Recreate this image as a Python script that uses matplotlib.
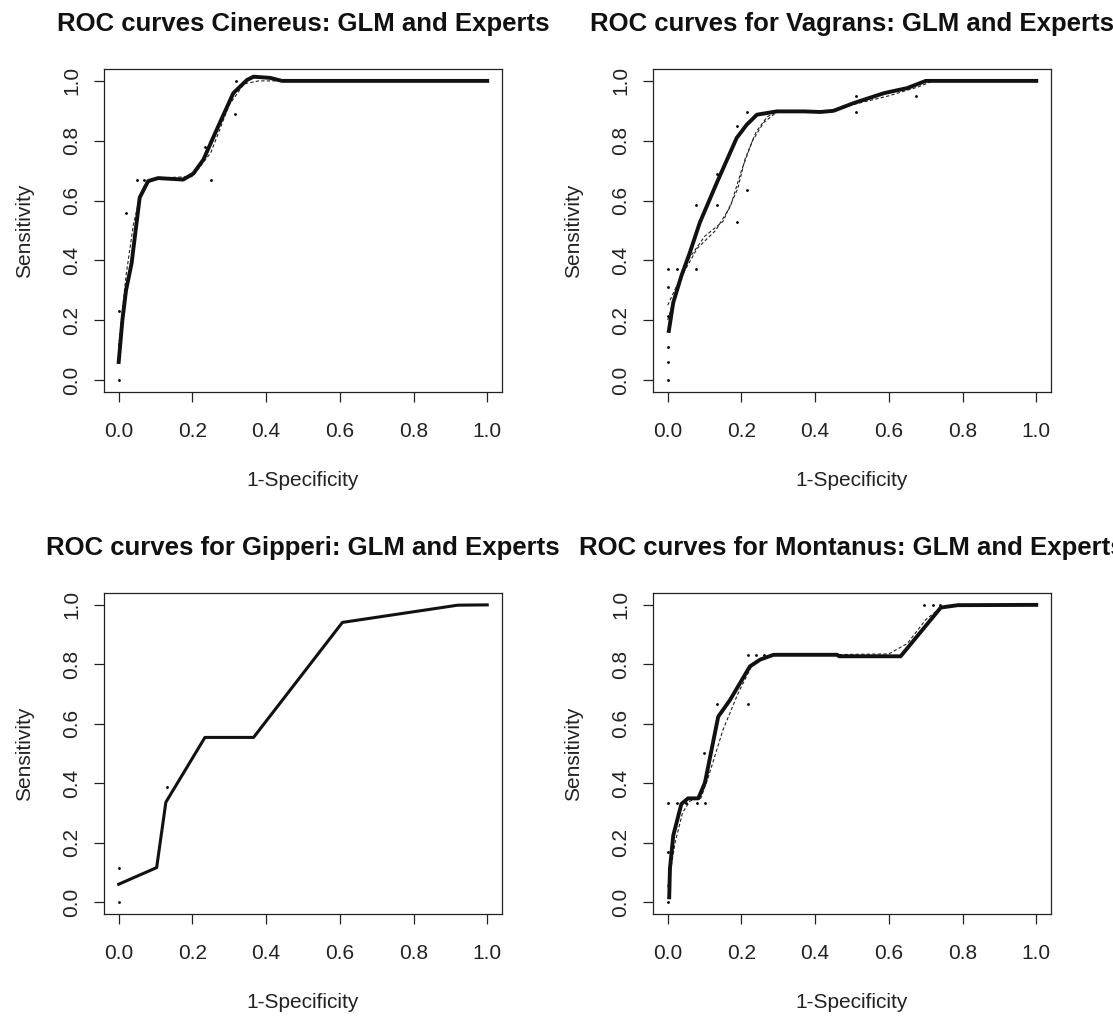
import matplotlib.pyplot as plt

plt.rcParams['font.family'] = ['Liberation Sans', 'DejaVu Sans']

titles = ['ROC curves Cinereus: GLM and Experts',
          'ROC curves for Vagrans: GLM and Experts',
          'ROC curves for Gipperi: GLM and Experts',
          'ROC curves for Montanus: GLM and Experts']

# GLM curves (1-specificity, sensitivity)
cin_x = [0.0, 0.01, 0.02, 0.035, 0.057, 0.08, 0.107, 0.175, 0.2025, 0.23, 0.266, 0.311, 0.348, 0.366, 0.411, 0.443, 1.0]
cin_y = [0.06, 0.2, 0.3, 0.39, 0.61, 0.665, 0.675, 0.67, 0.69, 0.737, 0.837, 0.959, 1.003, 1.014, 1.01, 1.0, 1.0]
vag_x = [0.003, 0.015, 0.037, 0.06, 0.087, 0.133, 0.187, 0.214, 0.242, 0.296, 0.369, 0.414, 0.45, 0.505, 0.587, 0.65, 0.70, 1.0]
vag_y = [0.164, 0.259, 0.348, 0.426, 0.526, 0.659, 0.809, 0.853, 0.887, 0.898, 0.898, 0.896, 0.9, 0.926, 0.959, 0.976, 1.0, 1.0]
gip_x = [0.0, 0.103, 0.128, 0.234, 0.366, 0.607, 0.92, 1.0]
gip_y = [0.06, 0.116, 0.336, 0.554, 0.554, 0.941, 0.999, 1.0]
mon_x = [0.004, 0.006, 0.015, 0.037, 0.055, 0.083, 0.101, 0.137, 0.169, 0.223, 0.251, 0.287, 0.46, 0.465, 0.632, 0.741, 0.787, 1.0]
mon_y = [0.016, 0.113, 0.224, 0.33, 0.349, 0.349, 0.402, 0.624, 0.68, 0.793, 0.816, 0.832, 0.832, 0.827, 0.827, 0.991, 0.999, 1.0]

# expert curves
cin_ex_x = [0.0, 0.02, 0.04, 0.055, 0.07, 0.1, 0.2, 0.25, 0.3, 0.34, 0.38, 1.0]
cin_ex_y = [0.11, 0.35, 0.52, 0.6, 0.65, 0.675, 0.68, 0.76, 0.92, 0.99, 1.0, 1.0]
vag_exa_x = [0.0, 0.03, 0.06, 0.1, 0.15, 0.19, 0.21, 0.24, 0.27, 0.3, 0.45, 0.5, 0.6, 0.68, 0.72, 1.0]
vag_exa_y = [0.25, 0.33, 0.41, 0.48, 0.53, 0.64, 0.74, 0.83, 0.88, 0.9, 0.9, 0.92, 0.95, 0.98, 1.0, 1.0]
vag_exb_x = [0.0, 0.03, 0.08, 0.13, 0.17, 0.2, 0.23, 0.26, 0.3]
vag_exb_y = [0.2, 0.33, 0.44, 0.5, 0.58, 0.7, 0.8, 0.86, 0.9]
mon_ex_x = [0.0, 0.02, 0.04, 0.06, 0.09, 0.11, 0.15, 0.19, 0.23, 0.28, 0.6, 0.65, 0.7, 0.74, 0.8, 1.0]
mon_ex_y = [0.05, 0.2, 0.3, 0.34, 0.35, 0.42, 0.58, 0.7, 0.8, 0.83, 0.835, 0.87, 0.95, 0.99, 1.0, 1.0]

# scattered expert points
cin_pt_x = [0.0, 0.0, 0.0, 0.019, 0.05, 0.07, 0.234, 0.25, 0.316, 0.317]
cin_pt_y = [0.0, 0.12, 0.23, 0.557, 0.667, 0.667, 0.78, 0.667, 0.89, 1.0]
vag_pt_x = [0.0, 0.0, 0.0, 0.0, 0.0, 0.0, 0.024, 0.076, 0.076, 0.134, 0.134, 0.187, 0.214, 0.187, 0.214, 0.51, 0.51, 0.675]
vag_pt_y = [0.0, 0.059, 0.109, 0.214, 0.31, 0.372, 0.372, 0.372, 0.584, 0.584, 0.687, 0.529, 0.634, 0.848, 0.896, 0.948, 0.896, 0.948]
gip_pt_x = [0.0, 0.0, 0.13]
gip_pt_y = [0.0, 0.116, 0.388]
mon_pt_x = [0.0, 0.0, 0.0, 0.025, 0.05, 0.08, 0.1, 0.099, 0.135, 0.219, 0.219, 0.24, 0.26, 0.696, 0.72, 0.74]
mon_pt_y = [0.0, 0.169, 0.333, 0.333, 0.333, 0.333, 0.333, 0.502, 0.666, 0.666, 0.833, 0.833, 0.833, 1.0, 1.0, 1.0]


def draw_panel(ax, title, glm, experts, points, lw=2.8):
    for ex, ey in experts:
        ax.plot(ex, ey, color='#222222', lw=0.8, ls=(0, (3, 2)))
    ax.plot(points[0], points[1], ls='none', marker='.', ms=2, color='black')
    ax.plot(glm[0], glm[1], color='#111111', lw=lw, solid_joinstyle='round')

    ax.set_xlim(-0.04, 1.04)
    ax.set_ylim(-0.04, 1.04)
    ticks = [0.0, 0.2, 0.4, 0.6, 0.8, 1.0]
    ax.set_xticks(ticks)
    ax.set_yticks(ticks)
    ax.set_xticklabels(['%.1f' % t for t in ticks])
    ax.set_yticklabels(['%.1f' % t for t in ticks], rotation=90, va='center')
    ax.tick_params(axis='both', length=7.5, width=0.9, labelsize=15, colors='#222222')
    ax.tick_params(axis='x', pad=14)
    ax.tick_params(axis='y', pad=9)
    for s in ax.spines.values():
        s.set_linewidth(0.9)
        s.set_color('#222222')
    ax.set_xlabel('1-Specificity', fontsize=15, labelpad=22, color='#222222')
    ax.set_ylabel('Sensitivity', fontsize=15, labelpad=20, color='#222222')
    ax.set_title(title, fontsize=18.5, fontweight='bold', pad=27, color='#111111')


fig = plt.figure(figsize=(11.13, 10.18), dpi=100)
ax1 = fig.add_axes([0.0934, 0.615, 0.3576, 0.3173])
ax2 = fig.add_axes([0.5867, 0.615, 0.3576, 0.3173])
ax3 = fig.add_axes([0.0934, 0.1022, 0.3576, 0.3153])
ax4 = fig.add_axes([0.5867, 0.1022, 0.3576, 0.3153])

draw_panel(ax1, titles[0], (cin_x, cin_y), [(cin_ex_x, cin_ex_y)], (cin_pt_x, cin_pt_y))
draw_panel(ax2, titles[1], (vag_x, vag_y), [(vag_exa_x, vag_exa_y), (vag_exb_x, vag_exb_y)], (vag_pt_x, vag_pt_y))
draw_panel(ax3, titles[2], (gip_x, gip_y), [], (gip_pt_x, gip_pt_y), lw=2.2)
draw_panel(ax4, titles[3], (mon_x, mon_y), [(mon_ex_x, mon_ex_y)], (mon_pt_x, mon_pt_y))

fig.savefig('out.png', dpi=100)
